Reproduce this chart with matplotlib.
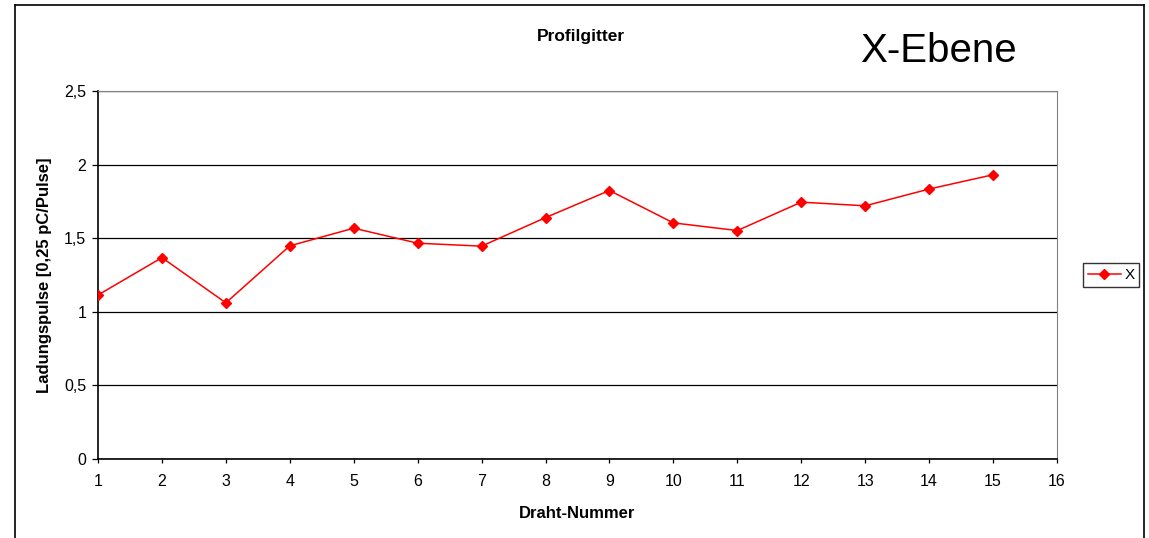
import matplotlib.pyplot as plt
from matplotlib.ticker import FuncFormatter, MultipleLocator
from matplotlib.lines import Line2D

plt.rcParams['font.family'] = ['Liberation Sans', 'DejaVu Sans']

# Messwerte
draht = [1, 2, 3, 4, 5, 6, 7, 8, 9, 10, 11, 12, 13, 14, 15]
ladung_x = [1.114, 1.368, 1.061, 1.448, 1.568, 1.466, 1.446, 1.640,
            1.824, 1.604, 1.552, 1.745, 1.720, 1.834, 1.931]

W, H = 1149, 538
fig = plt.figure(figsize=(W / 100, H / 100), dpi=100)

# Rahmen um das Diagramm (unten offen)
fig.add_artist(Line2D([15 / W, 15 / W], [0, 1 - 5 / H], color='black', lw=1.2))
fig.add_artist(Line2D([15 / W, 1144 / W], [1 - 5 / H, 1 - 5 / H], color='black', lw=1.2))
fig.add_artist(Line2D([1144 / W, 1144 / W], [0, 1 - 5 / H], color='black', lw=1.2))

ax = fig.add_axes([98 / W, (H - 459) / H, 959 / W, 368 / H])
ax.plot(draht, ladung_x, color='red', lw=1.1, marker='D', markersize=5.5,
        label='X', zorder=3)

ax.set_xlim(1, 16)
ax.set_ylim(0, 2.5)
ax.xaxis.set_major_locator(MultipleLocator(1))
ax.yaxis.set_major_locator(MultipleLocator(0.5))
ax.yaxis.set_major_formatter(FuncFormatter(lambda v, p: ('%g' % v).replace('.', ',')))
ax.grid(axis='y', color='black', lw=0.9)
ax.set_axisbelow(True)

ax.spines['top'].set_color('#808080')
ax.spines['right'].set_color('#808080')
for s in ['left', 'bottom']:
    ax.spines[s].set_color('black')
    ax.spines[s].set_linewidth(1.2)
ax.tick_params(axis='y', length=4.5, width=0.9, pad=4, labelsize=11.5)
ax.tick_params(axis='x', length=3, width=0.9, pad=8, labelsize=11.5)

ax.set_xlabel('Draht-Nummer', fontsize=12, fontweight='bold', labelpad=12)
ax.set_ylabel('Ladungspulse [0,25 pC/Pulse]', fontsize=12, fontweight='bold', labelpad=9)

fig.text(581 / W, 1 - 36 / H, 'Profilgitter', fontsize=12.5, fontweight='bold',
         ha='center', va='center')
fig.text(860 / W, 1 - 51 / H, 'X-Ebene', fontsize=29, ha='left', va='center')

leg = fig.legend(loc='center left', bbox_to_anchor=(1083 / W, 1 - 275 / H),
                 fontsize=11, frameon=True, fancybox=False, handlelength=2.2,
                 borderpad=0.3, handletextpad=0.2, borderaxespad=0)
leg.get_frame().set_edgecolor('black')
leg.get_frame().set_linewidth(1.0)

fig.savefig('out.png', dpi=100)
